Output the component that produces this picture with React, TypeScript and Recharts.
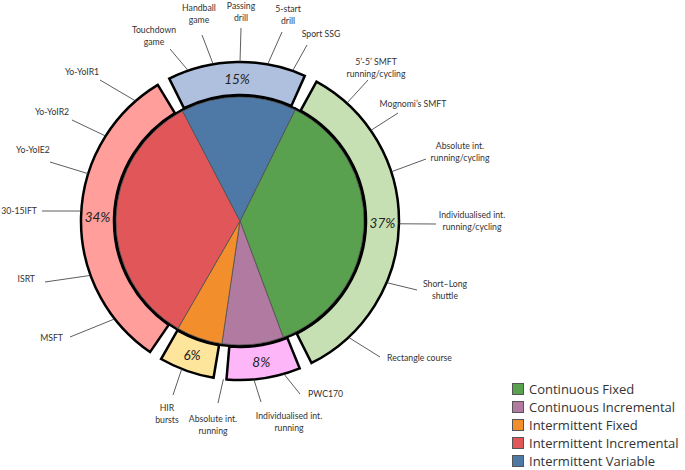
import React from 'react';
import { PieChart, Pie, Cell, Legend } from 'recharts';

// Test categories and their share of all tests (%)
const categories = [
    'Continuous Fixed',
    'Continuous Incremental',
    'Intermittent Fixed',
    'Intermittent Incremental',
    'Intermittent Variable'
];
const shares = [37, 8, 6, 34, 15];

// Individual tests listed around each category
const subTests = [
    ['5’-5’ SMFT\nrunning/cycling', 'Mognomi’s SMFT', 'Absolute int.\nrunning/cycling', 'Individualised int.\nrunning/cycling', 'Short–Long\nshuttle', 'Rectangle course'],
    ['PWC170', 'Individualised int.\nrunning', 'Absolute int.\nrunning'],
    ['HIR\nbursts'],
    ['MSFT', 'ISRT', '30-15IFT', 'Yo-YoIE2', 'Yo-YoIR2', 'Yo-YoIR1'],
    ['Sport SSG', '5-start\ndrill', 'Passing\ndrill', 'Handball\ngame', 'Touchdown\ngame']
];

const innerColors = ['#59A14F', '#B07AA1', '#F28E2B', '#E15759', '#4E79A7'];
const ringColors = ['#C6E0B4', '#FDB7F9', '#FDE59B', '#FF9E9A', '#AFC0DF'];

// Leader line layout: [angle on ring, line end dx, dy, text dx, dy, anchor] relative to pie centre
type Layout = [number, number, number, number, number, 'start' | 'middle' | 'end'];
const subLayout: Layout[][] = [
    [
        [47.8, 128, -141, 136, -160, 'middle'],
        [34.7, 158, -108, 173, -118, 'middle'],
        [18, 186, -62, 220, -76, 'middle'],
        [-1, 196, 3, 232, -7, 'middle'],
        [-22.8, 177, 69, 205, 62, 'middle'],
        [-47, 140, 136, 147, 136, 'start']
    ],
    [
        [-74, 60, 173, 68, 172, 'start'],
        [-85, 21, 181, 49, 194, 'middle'],
        [-96, -22, 182, -27, 197, 'middle']
    ],
    [[-111.5, -67, 174, -73, 186, 'middle']],
    [
        [218, -170, 116, -177, 116, 'end'],
        [200, -195, 61, -205, 57, 'end'],
        [176.4, -198, -10, -203, -11, 'end'],
        [162.7, -190, -59, -207, -72, 'middle'],
        [147.7, -168, -101, -188, -110, 'middle'],
        [131, -140, -141, -158, -150, 'middle']
    ],
    [
        [70.7, 67, -176, 81, -188, 'middle'],
        [80, 42, -189, 48, -213, 'middle'],
        [90, 1, -193, 1, -216, 'middle'],
        [99.7, -38, -186, -41, -214, 'middle'],
        [109, -70, -172, -86, -192, 'middle']
    ]
];

const data = categories.map((name, i) => ({ name, value: shares[i] }));

const RAD = Math.PI / 180;
const START = 63.6;
const PAD = 4.7;

const renderRingLabel = (props: any) => {
    const { cx, cy, midAngle, innerRadius, outerRadius, index, value } = props;
    const rMid = (innerRadius + outerRadius) / 2;
    const px = cx + rMid * Math.cos(-midAngle * RAD);
    const py = cy + rMid * Math.sin(-midAngle * RAD);
    return (
        <g key={`lbl-${index}`}>
            <text
                x={px}
                y={py}
                textAnchor="middle"
                dominantBaseline="central"
                fontFamily="Lato, sans-serif"
                fontStyle="italic"
                fontSize={13.5}
                fill="#222"
            >
                {`${value}%`}
            </text>
            {subTests[index].map((label, j) => {
                const [a, ex, ey, tx, ty, anchor] = subLayout[index][j];
                const sx = cx + outerRadius * Math.cos(-a * RAD);
                const sy = cy + outerRadius * Math.sin(-a * RAD);
                return (
                    <g key={j}>
                        <line x1={sx} y1={sy} x2={cx + ex} y2={cy + ey} stroke="#333" strokeWidth={0.8} />
                        <text
                            x={cx + tx}
                            y={cy + ty}
                            textAnchor={anchor}
                            fontFamily="Lato, sans-serif"
                            fontSize={8.7}
                            fill="#333"
                        >
                            {label.split('\n').map((line, k) => (
                                <tspan key={k} x={cx + tx} y={cy + ty + k * 12} dominantBaseline="central">
                                    {line}
                                </tspan>
                            ))}
                        </text>
                    </g>
                );
            })}
        </g>
    );
};

const renderLegend = () => (
    <div style={{ fontFamily: '"Open Sans", sans-serif', fontSize: 13, lineHeight: '18px', color: '#333' }}>
        {categories.map((name, i) => (
            <div key={name} style={{ display: 'flex', alignItems: 'center', height: 18, whiteSpace: 'nowrap' }}>
                <span
                    style={{
                        width: 10,
                        height: 10,
                        background: innerColors[i],
                        border: '1px solid #555',
                        marginRight: 5,
                        display: 'inline-block'
                    }}
                />
                {name}
            </div>
        ))}
    </div>
);

export default function App() {
    return (
        <div style={{ position: 'absolute', left: 0, top: 0, width: 685, height: 470, background: '#fff' }}>
            <PieChart width={685} height={470} margin={{ top: 0, right: 0, bottom: 0, left: 0 }}>
                {/* thick black rim behind the inner pie */}
                <Pie
                    data={data}
                    dataKey="value"
                    cx={240}
                    cy={221}
                    outerRadius={124}
                    startAngle={START}
                    endAngle={START - 360}
                    stroke="#000"
                    strokeWidth={5}
                    strokeLinejoin="round"
                    isAnimationActive={false}
                    legendType="none"
                >
                    {data.map((_e, i) => (
                        <Cell key={i} fill={innerColors[i]} />
                    ))}
                </Pie>
                <Pie
                    data={data}
                    dataKey="value"
                    cx={240}
                    cy={221}
                    outerRadius={124}
                    startAngle={START}
                    endAngle={START - 360}
                    stroke="#555"
                    strokeWidth={0.8}
                    isAnimationActive={false}
                    legendType="none"
                >
                    {data.map((_e, i) => (
                        <Cell key={i} fill={innerColors[i]} />
                    ))}
                </Pie>
                <Pie
                    data={data}
                    dataKey="value"
                    cx={240}
                    cy={221}
                    innerRadius={126}
                    outerRadius={159}
                    startAngle={START - PAD / 2}
                    endAngle={START - PAD / 2 - 360}
                    paddingAngle={PAD}
                    stroke="#000"
                    strokeWidth={2.5}
                    label={renderRingLabel}
                    labelLine={false}
                    isAnimationActive={false}
                    legendType="none"
                >
                    {data.map((_e, i) => (
                        <Cell key={i} fill={ringColors[i]} />
                    ))}
                </Pie>
                <Legend
                    content={renderLegend}
                    layout="vertical"
                    wrapperStyle={{ position: 'absolute', left: 512, top: 380, width: 180 }}
                />
            </PieChart>
        </div>
    );
}
